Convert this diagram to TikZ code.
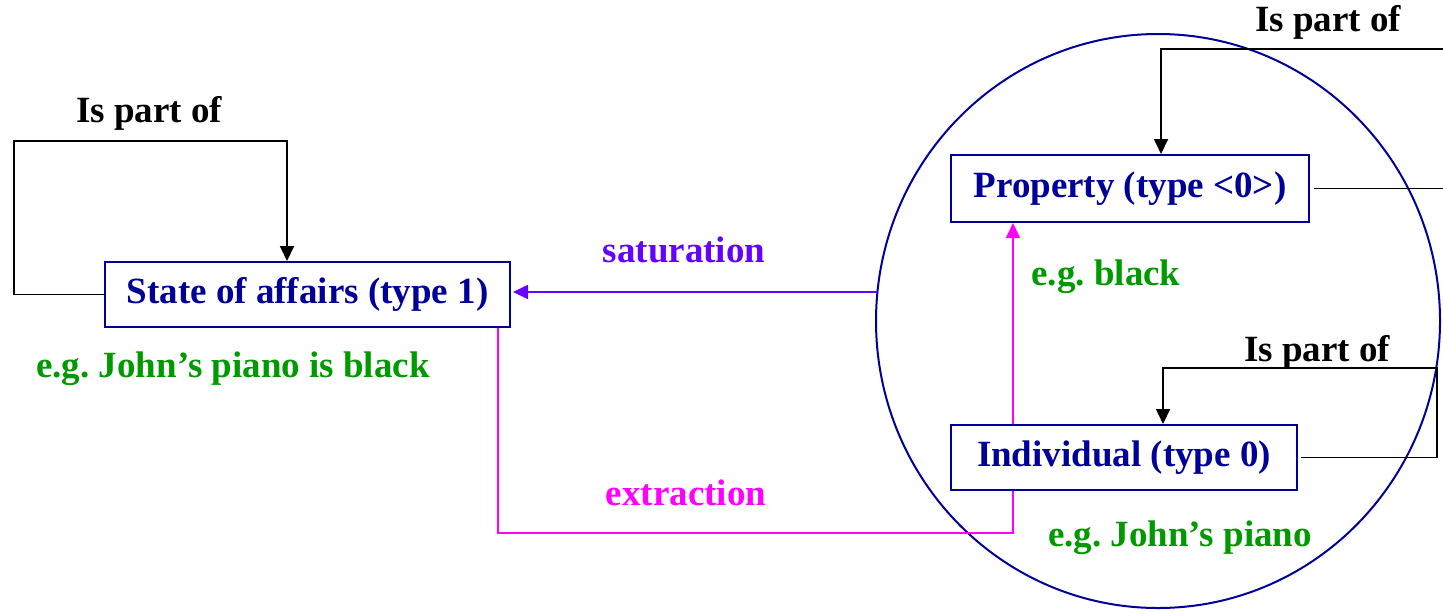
\documentclass[tikz,border=0pt]{standalone}
\usepackage{fontspec}
\setmainfont{Liberation Serif}
\usetikzlibrary{arrows.meta,positioning}
\definecolor{boxblue}{RGB}{0,0,153}
\definecolor{egreen}{RGB}{0,153,0}
\definecolor{satviolet}{RGB}{102,0,255}
\definecolor{extpink}{RGB}{255,0,255}
\frenchspacing

\begin{document}
\begin{tikzpicture}[x=0.5pt,y=-0.5pt,>={Triangle[length=7.5pt,width=7pt]},
        every node/.style={font=\fontsize{18.5}{22}\selectfont\bfseries},
        typebox/.style={draw=boxblue,text=boxblue,line width=1pt,minimum height=32.5pt,inner sep=0pt},
        eg/.style={text=egreen},
        rel/.style={->,line width=0.9pt}]
        \useasboundingbox (0,0) rectangle (1443,611);
        % the circle round the type 0 side
        \draw[boxblue,line width=1pt] (1158,321) ellipse [x radius=282, y radius=287];
        \node[typebox,minimum width=202.5pt] (soa) at (307.5,294.5) {State of affairs (type 1)};
        \node[typebox,minimum width=179pt,minimum height=33.5pt] (prop) at (1130,188.5) {Property (type <0>)};
        \node[typebox,minimum width=173pt] (indiv) at (1124,457.5) {Individual (type 0)};
        \node (soa-part) at (149,113) {Is part of};
        \node[eg] (soa-eg) at (233,369) {e.g. John's piano is black};
        \node[text=satviolet] (sat) at (684,250) {saturation};
        \node[text=extpink] (ext) at (686,493) {extraction};
        \node[eg] (prop-eg) at (1106,277) {e.g. black};
        \node[eg] (indiv-eg) at (1180,538) {e.g. John's piano};
        \node (prop-part) at (1328,22) {Is part of};
        \node (indiv-part) at (1317,352) {Is part of};
        \coordinate (circ-w) at (877,292);
        \coordinate (soa-l) at (14,141);
        \coordinate (soa-in) at (287,141);
        \coordinate (ext-r) at (1013,533);
        \coordinate (ext-l) at (498,533);
        \coordinate (prop-off) at (1443,185);
        \coordinate (prop-from) at (1443,49);
        \coordinate (prop-top) at (1161,49);
        \coordinate (indiv-r) at (1437,368);
        \coordinate (indiv-in) at (1163,368);
        % part-of loops
        \draw[rel] (soa.west) -- (soa.west -| soa-l) -- (soa-l) -- (soa-in) -- (soa.north -| soa-in);
        \draw[rel] (prop-from) -- (prop-top) -- (prop.north -| prop-top);
        \draw[line width=0.9pt] ([xshift=2pt]prop.east) -- (prop.east -| prop-off);
        \draw[rel] ([xshift=1.5pt]indiv.east) -- (indiv.east -| indiv-r) -- (indiv-r) -- (indiv-in) -- (indiv.north -| indiv-in);
        % saturation and extraction
        \draw[->,satviolet,line width=0.9pt] (circ-w) -- ([xshift=1pt]soa.east |- circ-w);
        \draw[extpink,line width=0.8pt] (indiv.south -| ext-r) -- (ext-r) -- (ext-l) -- (soa.south -| ext-l);
        \draw[->,extpink,line width=0.8pt] (indiv.north -| ext-r) -- (prop.south -| ext-r);
\end{tikzpicture}
\end{document}
